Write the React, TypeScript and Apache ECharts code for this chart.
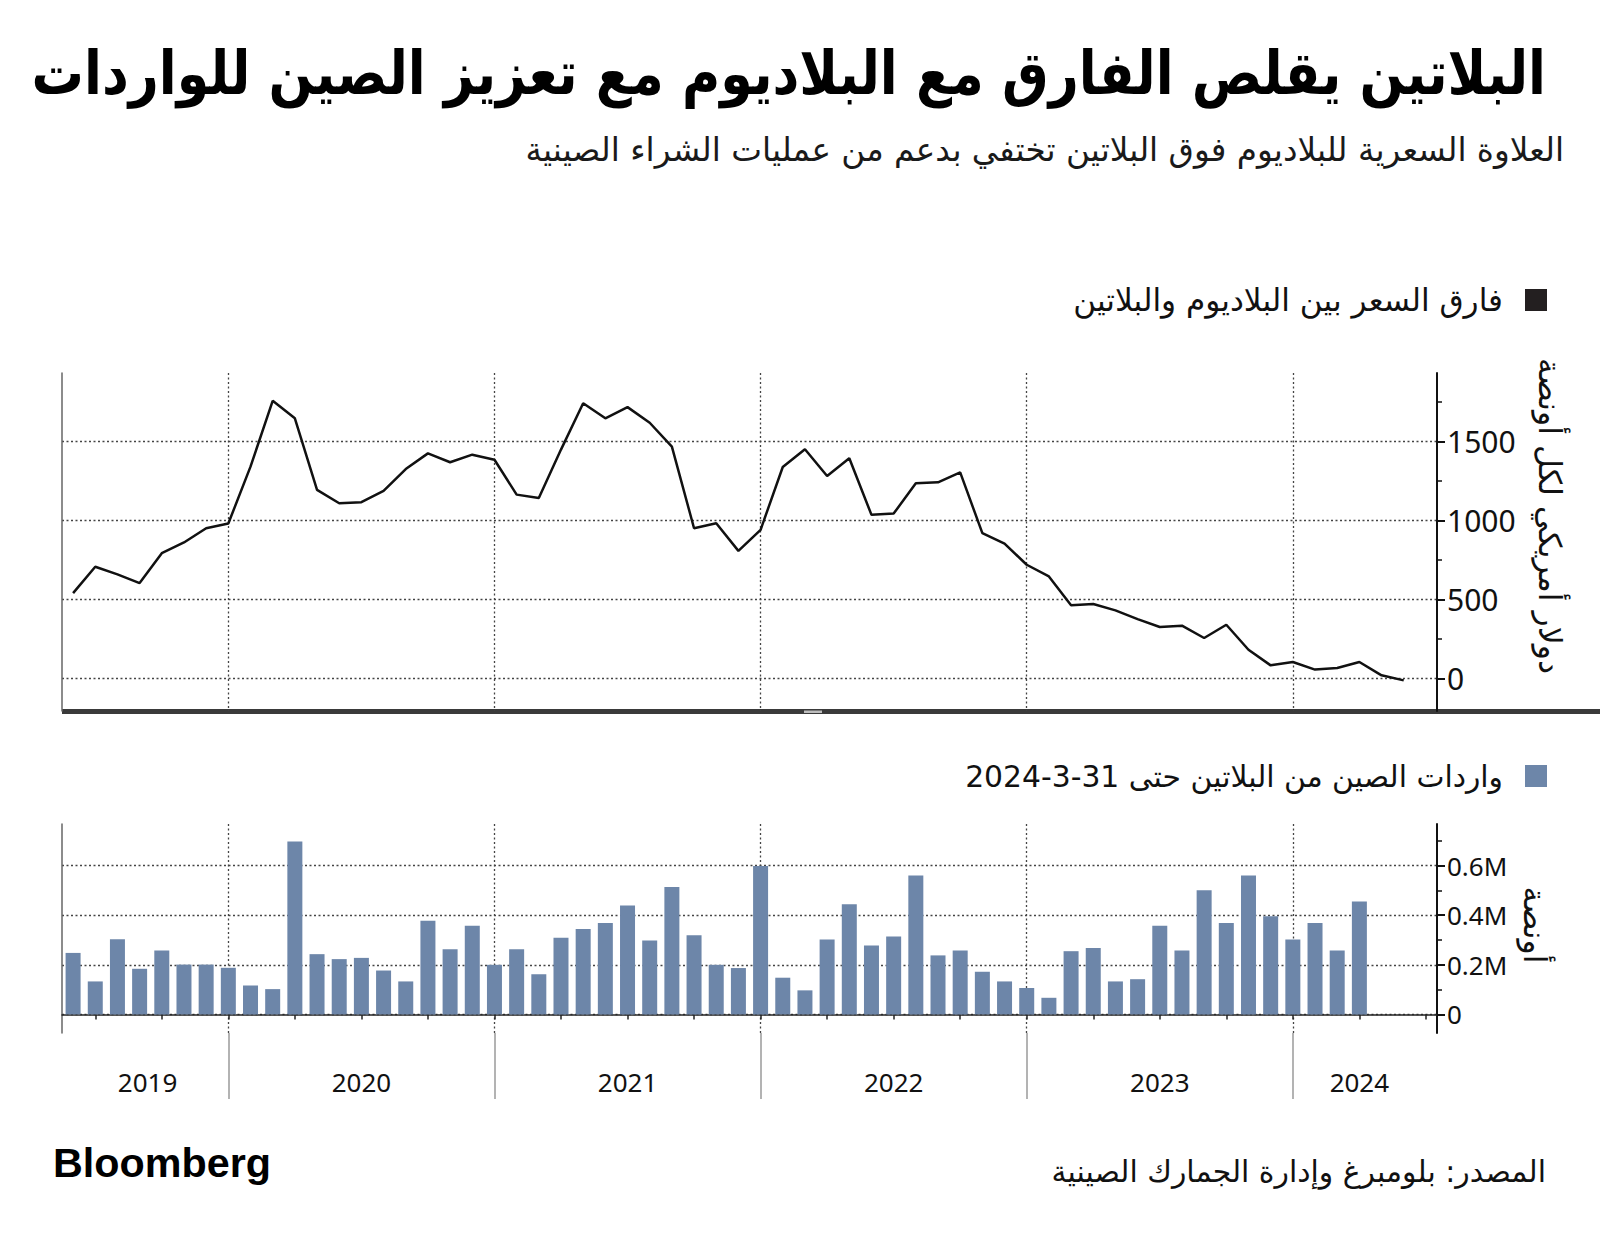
import React, { useEffect, useRef } from 'react';
import * as echarts from 'echarts';

// ---- data ----
const months: string[] = [
  '2019-05', '2019-06', '2019-07', '2019-08', '2019-09', '2019-10', '2019-11', '2019-12',
  '2020-01', '2020-02', '2020-03', '2020-04', '2020-05', '2020-06', '2020-07', '2020-08', '2020-09', '2020-10', '2020-11', '2020-12',
  '2021-01', '2021-02', '2021-03', '2021-04', '2021-05', '2021-06', '2021-07', '2021-08', '2021-09', '2021-10', '2021-11', '2021-12',
  '2022-01', '2022-02', '2022-03', '2022-04', '2022-05', '2022-06', '2022-07', '2022-08', '2022-09', '2022-10', '2022-11', '2022-12',
  '2023-01', '2023-02', '2023-03', '2023-04', '2023-05', '2023-06', '2023-07', '2023-08', '2023-09', '2023-10', '2023-11', '2023-12',
  '2024-01', '2024-02', '2024-03', '2024-04', '2024-05', '2024-06',
];

// palladium minus platinum, USD per ounce (month end)
const spread: number[] = [
  541, 708, 660, 605, 794, 862, 952, 982,
  1342, 1759, 1648, 1195, 1110, 1117, 1188, 1327, 1426, 1370, 1418, 1386,
  1165, 1144, 1450, 1743, 1648, 1719, 1620, 1469, 952, 984, 809, 942,
  1340, 1452, 1283, 1395, 1037, 1045, 1237, 1243, 1306, 921, 855, 721,
  647, 464, 472, 432, 377, 327, 335, 257, 341, 183, 84, 105,
  57, 67, 105, 21, -11,
];

// China platinum imports, million ounces
const imports: number[] = [
  0.248, 0.133, 0.303, 0.184, 0.258, 0.201, 0.201, 0.188,
  0.117, 0.102, 0.697, 0.243, 0.223, 0.228, 0.177, 0.133, 0.378, 0.263, 0.358, 0.200,
  0.263, 0.162, 0.309, 0.344, 0.369, 0.439, 0.298, 0.514, 0.319, 0.200, 0.187, 0.599,
  0.148, 0.097, 0.302, 0.444, 0.278, 0.314, 0.560, 0.238, 0.258, 0.172, 0.133, 0.107,
  0.067, 0.255, 0.268, 0.133, 0.142, 0.358, 0.258, 0.501, 0.369, 0.560, 0.396, 0.302,
  0.369, 0.258, 0.455,
];

const spreadTicks: number[] = [0, 500, 1000, 1500];
const importTicks: number[] = [0, 0.2, 0.4, 0.6];
const yearEndMonths: string[] = ['2019-12', '2020-12', '2021-12', '2022-12', '2023-12'];
const quarterTickMonths: string[] = [
  '2019-06', '2019-09', '2019-12', '2020-03', '2020-06', '2020-09', '2020-12',
  '2021-03', '2021-06', '2021-09', '2021-12', '2022-03', '2022-06', '2022-09', '2022-12',
  '2023-03', '2023-06', '2023-09', '2023-12', '2024-03', '2024-06',
];
const yearLabelMonths: string[] = ['2019-08', '2020-06', '2021-06', '2022-06', '2023-06', '2024-03'];
const yearLabels: string[] = ['2019', '2020', '2021', '2022', '2023', '2024'];

const TITLE = 'البلاتين يقلص الفارق مع البلاديوم مع تعزيز الصين للواردات';
const SUBTITLE = 'العلاوة السعرية للبلاديوم فوق البلاتين تختفي بدعم من عمليات الشراء الصينية';
const LEGEND_LINE = 'فارق السعر بين البلاديوم والبلاتين';
const LEGEND_BAR = 'واردات الصين من البلاتين حتى 31-3-2024';
const Y1_NAME = 'دولار أمريكي لكل أونصة';
const Y2_NAME = 'أونصة';
const SOURCE = 'المصدر: بلومبرغ وإدارة الجمارك الصينية';
const LOGO = 'Bloomberg';

const AR_FONT = "'DejaVu Sans'";
const NUM_FONT = "'Noto Sans'";
const LINE_COLOR = '#111111';
const BAR_COLOR = '#6d86a9';

function fitSize(text: string, width: number, weight: string, family: string): number {
  const ctx = document.createElement('canvas').getContext('2d');
  if (!ctx) return 28;
  ctx.font = `${weight} 100px ${family}`;
  const w = ctx.measureText(text).width;
  return w > 0 ? (100 * width) / w : 28;
}

export default function App() {
  const ref = useRef<HTMLDivElement>(null);

  useEffect(() => {
    if (!ref.current) return;
    const chart = echarts.init(ref.current, null, { renderer: 'svg' });

    const dotted = { color: '#444', width: 1.3, type: [2, 2.5] as number[] };
    const monthIdx = (m: string) => months.indexOf(m);
    const yearEndIdx = yearEndMonths.map(monthIdx);
    const quarterIdx = quarterTickMonths.map(monthIdx);
    const labelIdx = yearLabelMonths.map(monthIdx);

    const titleSize = fitSize(TITLE, 1515, 'bold', AR_FONT);
    const subSize = fitSize(SUBTITLE, 1039, 'normal', AR_FONT);
    const leg1Size = fitSize(LEGEND_LINE, 430, 'normal', AR_FONT);
    const leg2Size = fitSize(LEGEND_BAR, 538, 'normal', AR_FONT);
    const y1Size = fitSize(Y1_NAME, 316, 'normal', AR_FONT);
    const y2Size = fitSize(Y2_NAME, 77, 'normal', AR_FONT);
    const srcSize = fitSize(SOURCE, 495, 'normal', AR_FONT);
    const logoSize = fitSize(LOGO, 218, 'bold', "'Liberation Sans'");

    const txt = (
      text: string, x: number, y: number, size: number, align: string,
      opts: Record<string, any> = {}
    ) => ({
      type: 'text',
      x, y,
      rotation: opts.rotation || 0,
      scaleY: opts.scaleY || 1,
      silent: true,
      style: {
        text,
        fill: opts.fill || '#111',
        fontSize: size,
        fontFamily: opts.family || AR_FONT,
        fontWeight: opts.weight || 'normal',
        align, textAlign: align,
        verticalAlign: 'middle', textVerticalAlign: 'middle',
      },
    });

    const rightAxis = (gridIndex: number, min: number, max: number, ticks: number[], size: number,
      fmt: (v: number) => string) => ({
      type: 'value', gridIndex, position: 'right', min, max,
      axisLine: { show: true, lineStyle: { color: '#111', width: 2 } },
      axisTick: { show: true, length: 8, customValues: ticks, lineStyle: { color: '#111', width: 2 } },
      minorTick: { show: true, splitNumber: 2, length: 5, lineStyle: { color: '#111', width: 1.5 } },
      axisLabel: {
        show: true, margin: 10, fontSize: size, fontFamily: NUM_FONT, color: '#111',
        customValues: ticks,
        formatter: fmt,
      },
      splitLine: { show: true, lineStyle: dotted },
    });

    const leftLine = (gridIndex: number) => ({
      type: 'value', gridIndex, position: 'left', min: 0, max: 1,
      axisLine: { show: true, lineStyle: { color: '#666', width: 1.5 } },
      axisTick: { show: false }, axisLabel: { show: false }, splitLine: { show: false },
    });

    const option: any = {
      animation: false,
      backgroundColor: '#ffffff',
      grid: [
        { left: 62, top: 373, width: 1375, height: 338 },
        { left: 62, top: 824, width: 1375, height: 209 },
      ],
      xAxis: [
        {
          type: 'category', gridIndex: 0, data: months, boundaryGap: true, position: 'bottom',
          axisLine: { show: false }, axisTick: { show: false }, axisLabel: { show: false },
          splitLine: {
            show: true, alignWithLabel: true,
            interval: (i: number) => yearEndIdx.includes(i),
            lineStyle: dotted,
          },
        },
        {
          type: 'category', gridIndex: 1, data: months, boundaryGap: true, position: 'bottom',
          axisLine: { show: true, lineStyle: { color: '#222', width: 1.5 } },
          axisTick: {
            show: true, alignWithLabel: true, length: 5,
            interval: (i: number) => quarterIdx.includes(i),
            lineStyle: { color: '#222', width: 1.5 },
          },
          axisLabel: { show: false },
          splitLine: {
            show: true, alignWithLabel: true,
            interval: (i: number) => yearEndIdx.includes(i),
            lineStyle: dotted,
          },
        },
        {
          type: 'category', gridIndex: 1, data: months, boundaryGap: true, position: 'bottom',
          axisLine: { show: false },
          axisTick: {
            show: true, alignWithLabel: true, length: 66,
            interval: (i: number) => yearEndIdx.includes(i),
            lineStyle: { color: '#9a9a9a', width: 1.5 },
          },
          axisLabel: {
            show: true,
            interval: (i: number) => labelIdx.includes(i),
            margin: 36,
            fontSize: 26, fontFamily: NUM_FONT, color: '#111',
            formatter: (v: string) => {
              const k = yearLabelMonths.indexOf(v);
              const y = k >= 0 ? yearLabels[k] : '';
              return k === 0 ? `{p|${y}}` : y;
            },
            rich: { p: { padding: [0, 0, 0, 16], fontSize: 26, fontFamily: NUM_FONT, color: '#111' } },
          },
          splitLine: { show: false },
        },
      ],
      yAxis: [
        rightAxis(0, -205, 1935, spreadTicks, 30, (v: number) => String(v)),
        leftLine(0),
        rightAxis(1, -0.075, 0.768, importTicks, 26,
          (v: number) => (Math.abs(v) < 1e-9 ? '0' : `${Number(v).toFixed(1)}M`)),
        leftLine(1),
      ],
      series: [
        {
          name: LEGEND_LINE, type: 'line', xAxisIndex: 0, yAxisIndex: 0,
          data: spread, symbol: 'none', z: 3,
          lineStyle: { color: LINE_COLOR, width: 2.5 },
        },
        {
          name: LEGEND_BAR, type: 'bar', xAxisIndex: 1, yAxisIndex: 2,
          data: imports, barWidth: 15,
          itemStyle: { color: BAR_COLOR },
        },
      ],
      graphic: [
        txt(TITLE, 1546, 73, titleSize, 'right', { weight: 'bold', fill: '#000', scaleY: 1.15 }),
        txt(SUBTITLE, 1564, 150, subSize, 'right', { fill: '#1a1a1a' }),
        { type: 'rect', silent: true, shape: { x: 1525, y: 289, width: 22, height: 22 }, style: { fill: '#231f20' } },
        txt(LEGEND_LINE, 1503, 300, leg1Size, 'right'),
        { type: 'rect', silent: true, shape: { x: 1525, y: 765, width: 22, height: 22 }, style: { fill: BAR_COLOR } },
        txt(LEGEND_BAR, 1503, 776, leg2Size, 'right'),
        txt(Y1_NAME, 1550, 516, y1Size, 'center', { rotation: -Math.PI / 2 }),
        txt(Y2_NAME, 1535, 925, y2Size, 'center', { rotation: -Math.PI / 2 }),
        { type: 'rect', silent: true, shape: { x: 62, y: 709, width: 1538, height: 5 }, style: { fill: '#3a3a3a' } },
        { type: 'rect', silent: true, shape: { x: 804, y: 710.5, width: 18, height: 2.5 }, style: { fill: '#bdbdbd' } },
        txt(LOGO, 53, 1163, logoSize, 'left', { weight: 'bold', family: "'Liberation Sans'", fill: '#000' }),
        txt(SOURCE, 1546, 1171, srcSize, 'right'),
      ],
    };

    chart.setOption(option);
    return () => chart.dispose();
  }, []);

  return (
    <div
      ref={ref}
      style={{ position: 'absolute', left: 0, top: 0, width: 1600, height: 1241, background: '#fff' }}
    />
  );
}
